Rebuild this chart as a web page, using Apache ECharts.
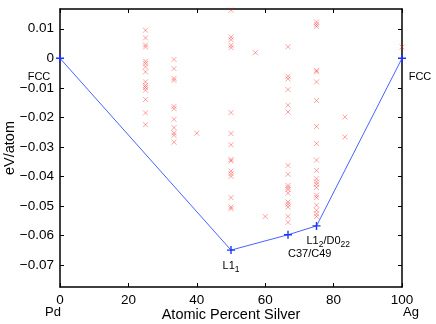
<!DOCTYPE html>
<html>
<head>
<meta charset="utf-8">
<script src="https://cdn.jsdelivr.net/npm/echarts@6/dist/echarts.min.js"></script>
<style>
  html, body { margin: 0; padding: 0; background: #fff; }
  #main { width: 436px; height: 324px; }
</style>
</head>
<body>
<div id="main"></div>
<script>
// formation energies (eV/atom) of candidate structures, one list per composition
const x25 = 25;
const y25 = [0.0095, 0.0069, 0.0045, 0.0038, -0.0010, -0.0018, -0.0029, -0.0046, -0.0080, -0.0092, -0.0099, -0.0108, -0.0140, -0.0185, -0.0225];
const x33 = 100 / 3;
const y33 = [-0.0004, -0.0035, -0.0068, -0.0075, -0.0163, -0.0171, -0.0207, -0.0235, -0.0253, -0.0261, -0.0284];
const x50 = 50;
const y50 = [0.0163, 0.0072, 0.0063, 0.0044, 0.0036, -0.0184, -0.0255, -0.0293, -0.0343, -0.0348, -0.0382, -0.0391, -0.0400, -0.0472, -0.0504, -0.0510];
const x67 = 200 / 3;
const y67 = [0.0039, -0.0061, -0.0070, -0.0106, -0.0159, -0.0182, -0.0363, -0.0393, -0.0431, -0.0438, -0.0445, -0.0457, -0.0487, -0.0495, -0.0504, -0.0536, -0.0556];
const x75 = 75;
const y75 = [0.0123, 0.0115, 0.0108, -0.0041, -0.0046, -0.0080, -0.0143, -0.0231, -0.0289, -0.0345, -0.0380, -0.0408, -0.0419, -0.0427, -0.0438, -0.0464, -0.0472, -0.0498, -0.0515, -0.0527, -0.0536];
// lone structures
const otherX = [40, 57.1, 60, 83.3, 83.3, 100];
const otherY = [-0.0254, 0.0019, -0.0536, -0.0199, -0.0267, 0.0038];

// convex hull
const hullX = [0, 50, 200 / 3, 75, 100];
const hullY = [0, -0.065, -0.0598, -0.0568, 0];
const hullNames = ['FCC', 'L1{s|1}', 'C37/C49', 'L1{s|2}/D0{s|22}', 'FCC'];

const yTicks = [-0.07, -0.06, -0.05, -0.04, -0.03, -0.02, -0.01, 0, 0.01];
const xTicks = [0, 20, 40, 60, 80, 100];

const FONT = '"Liberation Sans", Arial, Helvetica, sans-serif';

let structures = [];
[[x25, y25], [x33, y33], [x50, y50], [x67, y67], [x75, y75]].forEach(([x, ys]) => {
  ys.forEach(y => structures.push([x, y]));
});
otherX.forEach((x, i) => structures.push([x, otherY[i]]));

// label placement for each hull vertex
const labelPos = [
  { offset: [-21, 19], align: 'center' },
  { offset: [0, 16], align: 'center' },
  { offset: [0, 19], align: 'left' },
  { offset: [-10, 15], align: 'left' },
  { offset: [18, 19], align: 'center' }
];
const subRich = {
  s: { fontSize: 8.5, fontFamily: FONT, color: '#000', padding: [8, 0, 0, 0] }
};
const hullData = hullX.map((x, i) => ({
  value: [x, hullY[i]],
  label: {
    show: true,
    position: 'inside',
    offset: labelPos[i].offset,
    align: labelPos[i].align,
    verticalAlign: 'middle',
    formatter: hullNames[i],
    fontSize: 11,
    fontFamily: FONT,
    color: '#000',
    rich: subRich
  }
}));

function fmtY(v) {
  if (Math.abs(v) < 1e-9) return '0';
  const s = Math.abs(v).toFixed(2);
  return v < 0 ? '\u2212' + s : s;
}

const chart = echarts.init(document.getElementById('main'));
const boxLine = { onZero: false, lineStyle: { color: '#000', width: 1.5 } };
const tick = { inside: true, length: 4, lineStyle: { color: '#000' } };
chart.setOption({
  animation: false,
  grid: { left: 60, right: 34, top: 9, bottom: 37, outerBoundsMode: 'none', containLabel: false },
  xAxis: [
    {
      type: 'value', min: 0, max: 100, interval: 20,
      name: 'Atomic Percent Silver', nameLocation: 'middle', nameGap: 20, nameMoveOverlap: false,
      nameTextStyle: { fontSize: 14.5, fontFamily: FONT, color: '#000' },
      axisLine: boxLine,
      axisTick: tick,
      axisLabel: { fontSize: 13.5, fontFamily: FONT, color: '#000', margin: 6 },
      splitLine: { show: false }
    },
    {
      type: 'value', min: 0, max: 100, interval: 20, position: 'top',
      axisLine: boxLine,
      axisTick: tick,
      axisLabel: { show: false },
      splitLine: { show: false }
    }
  ],
  yAxis: [
    {
      type: 'value', min: -0.0775, max: 0.0167,
      name: 'eV/atom', nameLocation: 'middle', nameGap: 43, nameMoveOverlap: false,
      nameTextStyle: { fontSize: 14.5, fontFamily: FONT, color: '#000' },
      axisLine: boxLine,
      axisTick: Object.assign({ customValues: yTicks }, tick),
      axisLabel: { fontSize: 13.5, fontFamily: FONT, color: '#000', margin: 6, customValues: yTicks, formatter: fmtY },
      splitLine: { show: false }
    },
    {
      type: 'value', min: -0.0775, max: 0.0167, position: 'right',
      axisLine: boxLine,
      axisTick: Object.assign({ customValues: yTicks }, tick),
      axisLabel: { show: false },
      splitLine: { show: false }
    }
  ],
  graphic: [
    { type: 'text', left: 45, top: 306, style: { text: 'Pd', fontSize: 13, fontFamily: FONT, fill: '#000' } },
    { type: 'text', left: 403, top: 306, style: { text: 'Ag', fontSize: 13, fontFamily: FONT, fill: '#000' } }
  ],
  series: [
    {
      type: 'scatter',
      data: structures,
      symbol: 'path://M0,0 L10,10 M10,0 L0,10',
      symbolSize: 5,
      itemStyle: { color: 'transparent', borderColor: 'rgba(255,0,0,0.45)', borderWidth: 1 },
      silent: true,
      z: 2
    },
    {
      type: 'line',
      data: hullData,
      symbol: 'path://M5,0 L5,10 M0,5 L10,5',
      symbolSize: 8,
      itemStyle: { color: 'transparent', borderColor: '#1f33ff', borderWidth: 1.4 },
      lineStyle: { color: '#4762ff', width: 1 },
      z: 3
    }
  ]
});
</script>
</body>
</html>
